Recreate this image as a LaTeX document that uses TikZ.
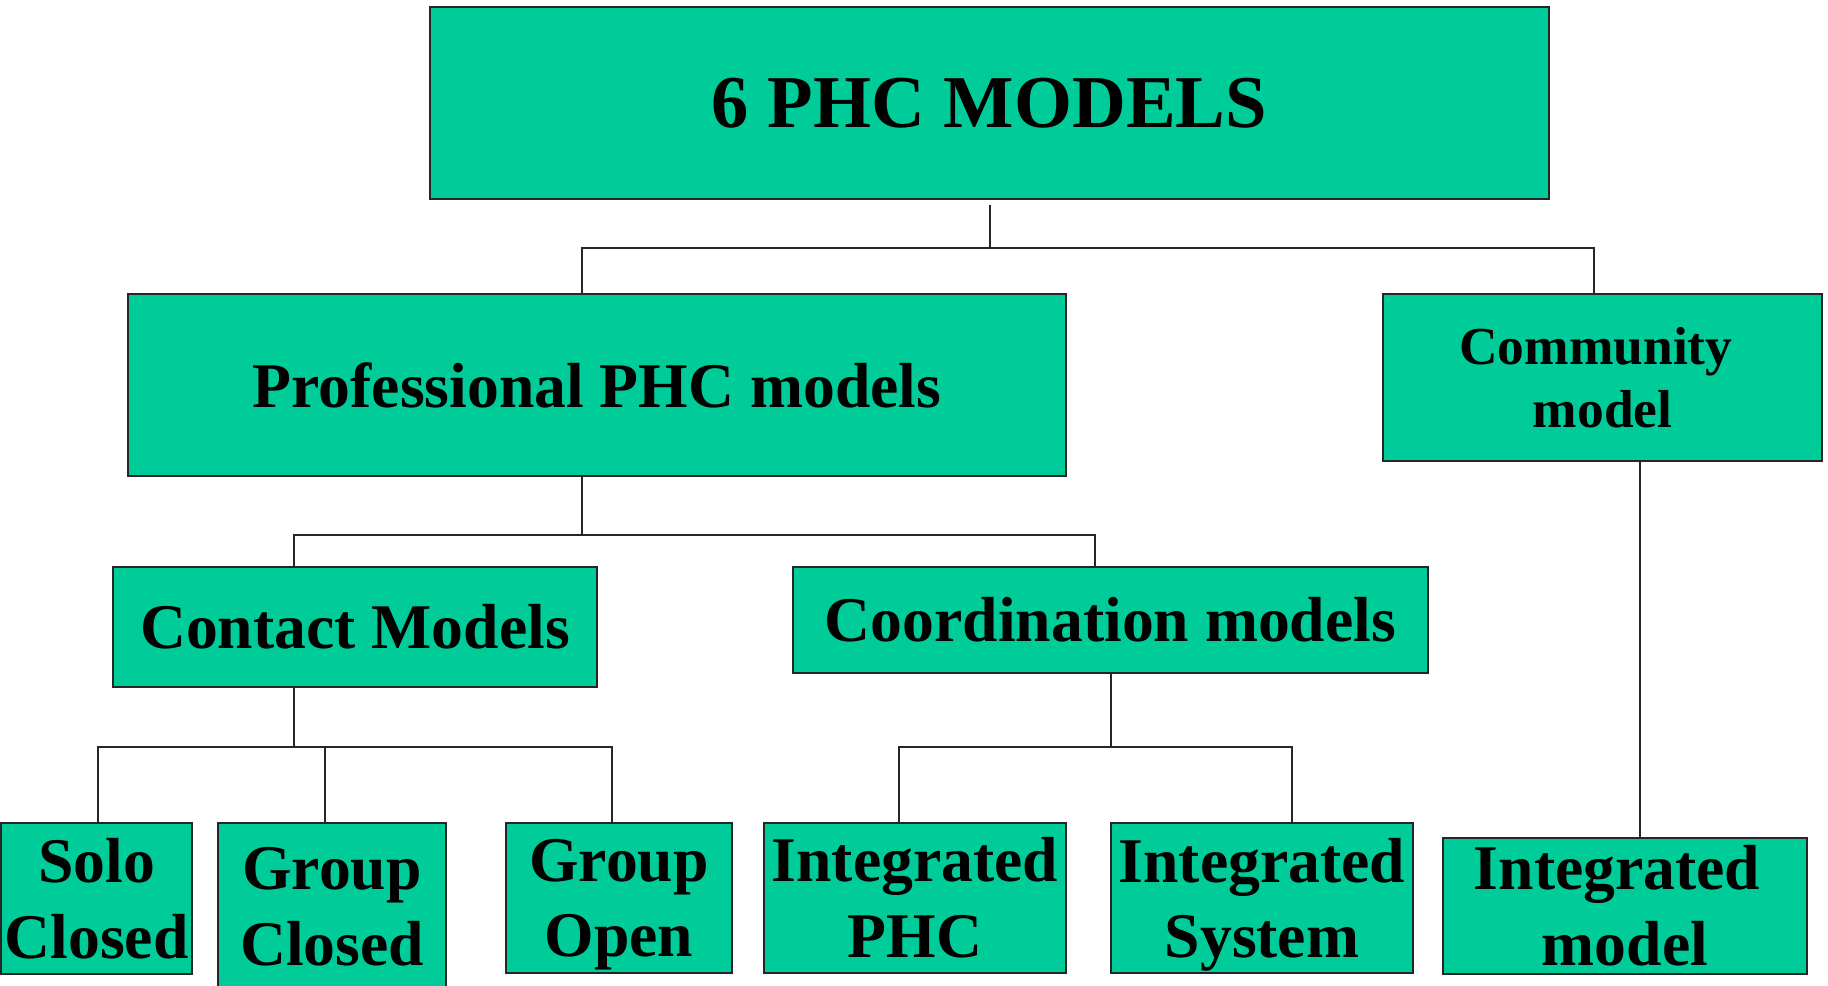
\documentclass[tikz,border=0pt]{standalone}
\usepackage{fontspec}
\setmainfont{Liberation Serif}
\definecolor{boxgreen}{HTML}{00CC99}
\begin{document}
\begin{tikzpicture}[x=0.01cm,y=-0.01cm,
  box/.style={draw=black!85, line width=0.6pt, fill=boxgreen, inner sep=0pt, align=center},
  big/.style={font=\bfseries\fontsize{21.2}{25}\selectfont},
  mid/.style={font=\bfseries\fontsize{18.1}{21.5}\selectfont},
  small/.style={font=\bfseries\fontsize{15.2}{18}\selectfont},
  conn/.style={draw=black!85, line width=0.5pt}]
\useasboundingbox (0,0) rectangle (1828,986);
% boxes
\node[box, big, minimum width=11.19cm, minimum height=1.92cm] (top) at (989.5,103) {6 PHC MODELS};
\node[box, mid, minimum width=9.38cm, minimum height=1.82cm] (prof) at (597,385) {Professional PHC models};
\node[box, small, minimum width=4.39cm, minimum height=1.67cm] (comm) at (1602.5,377.5) {Community\hspace*{0.25em}\\model};
\node[box, mid, minimum width=4.84cm, minimum height=1.20cm] (contact) at (355,627) {Contact Models};
\node[box, mid, minimum width=6.35cm, minimum height=1.06cm] (coord) at (1110.5,620) {Coordination models};
\node[box, mid, minimum width=1.91cm, minimum height=1.51cm] (solo) at (96.5,898.5) {Solo\\Closed};
\node[box, mid, minimum width=2.28cm, minimum height=1.77cm] (gclosed) at (332,911.5) {Group\\Closed\rule[-3pt]{0pt}{3pt}};
\node[box, mid, minimum width=2.26cm, minimum height=1.50cm] (gopen) at (619,898) {Group\\\raisebox{0pt}[\height][0pt]{Open}};
\node[box, mid, minimum width=3.02cm, minimum height=1.50cm] (iphc) at (915,898) {Integrated\\PHC};
\node[box, mid, minimum width=3.02cm, minimum height=1.50cm] (isys) at (1262,898) {Integrated\\\raisebox{0pt}[\height][0pt]{System}};
\node[box, mid, minimum width=3.64cm, minimum height=1.36cm] (imodel) at (1625,906) {Integrated\hspace*{0.25em}\\model};
% junctions
\coordinate (b1) at (990,248);
\coordinate (b2) at (582,535);
\coordinate (b3) at (294,747);
\coordinate (b4) at (1111,747);
% connectors
\draw[conn] ([xshift=0.005cm, yshift=-0.05cm]top.south) -- (b1);
\draw[conn] ([xshift=-0.15cm]prof.north) |- (b1) -| ([xshift=-0.085cm]comm.north);
\draw[conn] ([xshift=-0.15cm]prof.south) -- (b2);
\draw[conn] ([xshift=-0.61cm]contact.north) |- (b2) -| ([xshift=-0.155cm]coord.north);
\draw[conn] ([xshift=-0.61cm]contact.south) -- (b3);
\draw[conn] ([xshift=0.015cm]solo.north) |- (b3) -| ([xshift=-0.07cm]gopen.north);
\draw[conn] ([xshift=-0.07cm]gclosed.north) |- (b3);
\draw[conn] ([xshift=0.005cm]coord.south) -- (b4);
\draw[conn] ([xshift=-0.16cm]iphc.north) |- (b4) -| ([xshift=0.3cm]isys.north);
\draw[conn] ([xshift=0.375cm]comm.south) -- ([xshift=0.15cm]imodel.north);
\end{tikzpicture}
\end{document}
